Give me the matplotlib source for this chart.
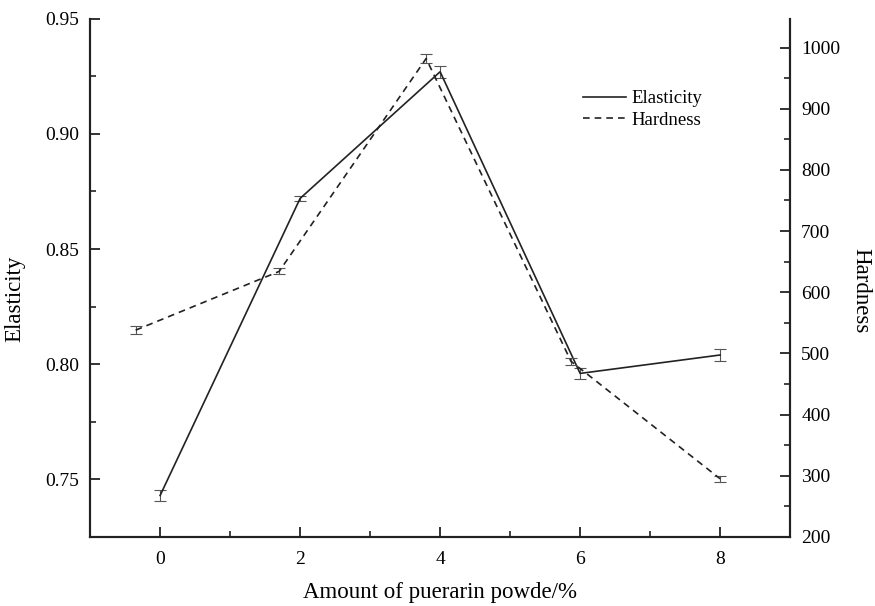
import matplotlib.pyplot as plt
from matplotlib.ticker import MultipleLocator

plt.rcParams['font.family'] = ['Liberation Serif', 'DejaVu Serif']

# elasticity series (left axis)
elas_x = [0, 2, 4, 6, 8]
elas_y = [0.743, 0.872, 0.927, 0.796, 0.804]
elas_err = [0.0025, 0.0012, 0.0025, 0.0025, 0.0025]

# hardness series (right axis)
hard_x = [-0.35, 1.7, 3.8, 5.87, 8.0]
hard_y = [538, 634, 982, 487, 295]
hard_err = [6, 5, 7, 6, 5]

x_ticks = [0, 2, 4, 6, 8]

line_col = '#222222'
err_col = '#555555'

fig = plt.figure(figsize=(8.75, 6.06), dpi=100)
ax = fig.add_axes([0.103, 0.114, 0.8, 0.855])
ax2 = ax.twinx()

ax.errorbar(elas_x, elas_y, yerr=elas_err, color=line_col, lw=1.2,
            ecolor=err_col, elinewidth=0.8, capsize=4, capthick=0.8,
            label='Elasticity')
ax2.errorbar(hard_x, hard_y, yerr=hard_err, color=line_col, lw=1.2,
             ls=(0, (4, 3)), ecolor=err_col, elinewidth=0.8, capsize=4,
             capthick=0.8, label='Hardness')

ax.set_xlim(-1, 9)
ax.set_ylim(0.725, 0.95)
ax2.set_ylim(200, 1047)

ax.set_xticks(x_ticks)
ax.xaxis.set_minor_locator(MultipleLocator(1))
ax.yaxis.set_minor_locator(MultipleLocator(0.025))
ax2.yaxis.set_major_locator(MultipleLocator(100))
ax2.yaxis.set_minor_locator(MultipleLocator(50))
ax.set_yticks([0.75, 0.80, 0.85, 0.90, 0.95])
ax.set_yticklabels(['0.75', '0.80', '0.85', '0.90', '0.95'])

for a in (ax, ax2):
    a.spines['top'].set_visible(False)
    for s in a.spines.values():
        s.set_linewidth(1.5)
        s.set_color('#222222')
    a.tick_params(which='major', direction='in', length=7, width=1.3,
                  labelsize=14, color='#222222')
    a.tick_params(which='minor', direction='in', length=4, width=1.2,
                  color='#222222')
ax.tick_params(axis='y', pad=8)
ax2.tick_params(axis='y', pad=8)
ax.tick_params(axis='x', pad=10)

ax.set_xlabel('Amount of puerarin powde/%', fontsize=16.5, labelpad=10)
ax.set_ylabel('Elasticity', fontsize=16.5)
ax.yaxis.set_label_coords(-0.093, 0.46)
ax2.set_ylabel('Hardness', fontsize=16.5, rotation=270)
ax2.yaxis.set_label_coords(1.116, 0.475)

h1, l1 = ax.get_legend_handles_labels()
h2, l2 = ax2.get_legend_handles_labels()
handles = [h1[0][0], h2[0][0]]
ax.legend(handles, l1 + l2, loc='upper left', bbox_to_anchor=(0.68, 0.895),
          frameon=False, fontsize=13.5, handlelength=2.3, handletextpad=0.3,
          labelspacing=0.25)

fig.savefig('out.png', dpi=100)
